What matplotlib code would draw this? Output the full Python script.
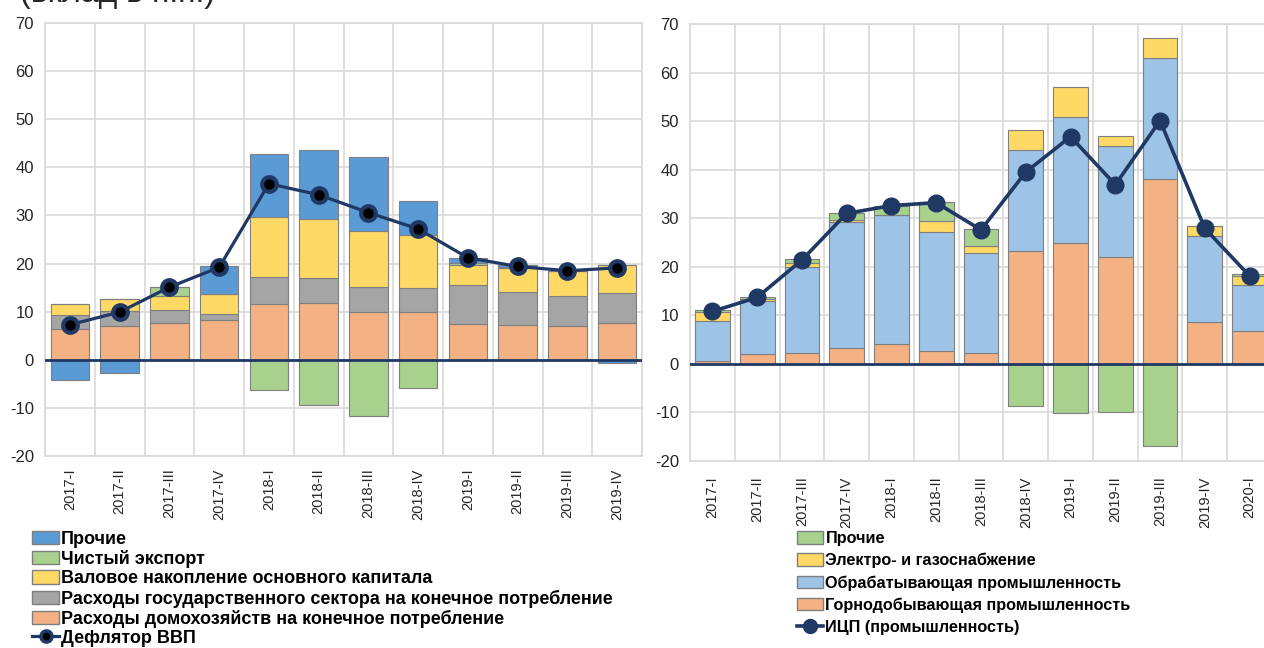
import matplotlib
matplotlib.use("Agg")
import matplotlib.pyplot as plt
import numpy as np
from matplotlib.patches import Patch
from matplotlib.lines import Line2D

plt.rcParams['font.family'] = ['Liberation Sans', 'DejaVu Sans']
plt.rcParams['axes.unicode_minus'] = False

# ---- данные: левая панель (дефлятор ВВП) ----
quarters_l = ['2017-I', '2017-II', '2017-III', '2017-IV', '2018-I', '2018-II', '2018-III', '2018-IV',
              '2019-I', '2019-II', '2019-III', '2019-IV']
households = [6.4, 7.1, 7.6, 8.2, 11.6, 11.8, 9.9, 9.9, 7.5, 7.2, 7.1, 7.6]
government = [3.0, 3.0, 2.8, 1.3, 5.6, 5.2, 5.2, 5.0, 8.1, 6.9, 6.1, 6.3]
investment = [2.2, 2.5, 2.9, 4.25, 12.5, 12.2, 11.7, 11.1, 4.2, 4.9, 5.2, 5.8]
net_export = [0.0, 0.0, 1.8, 0.0, -6.25, -9.4, -11.7, -5.8, 0.4, 0.3, 0.0, 0.1]
other_l = [-4.3, -2.8, 0.0, 5.65, 13.0, 14.3, 15.4, 7.1, 1.0, 0.3, 0.0, -0.7]
deflator = [7.3, 9.9, 15.1, 19.2, 36.6, 34.3, 30.6, 27.2, 21.2, 19.4, 18.5, 19.1]

# ---- данные: правая панель (ИЦП) ----
quarters_r = ['2017-I', '2017-II', '2017-III', '2017-IV', '2018-I', '2018-II', '2018-III', '2018-IV',
              '2019-I', '2019-II', '2019-III', '2019-IV', '2020-I']
mining = [0.5, 2.1, 2.2, 3.2, 4.05, 2.75, 2.3, 23.3, 24.8, 22.1, 38.1, 8.6, 6.8]
manufacturing = [8.4, 10.9, 17.7, 26.1, 26.65, 24.35, 20.5, 20.8, 26.1, 22.8, 24.8, 17.8, 9.5]
electricity = [1.7, 0.4, 0.8, 0.35, 0.0, 2.3, 1.4, 4.1, 6.2, 2.0, 4.2, 1.9, 1.7]
other_r = [0.45, 0.4, 0.9, 1.35, 1.9, 4.0, 3.6, -8.65, -10.2, -10.0, -16.9, 0.0, 0.5]
ppi = [10.8, 13.7, 21.4, 31.0, 32.6, 33.2, 27.6, 39.5, 46.8, 36.9, 50.1, 27.9, 18.1]

c_orange = '#f4b183'
c_gray = '#a5a5a5'
c_yellow = '#ffd966'
c_green = '#a9d18e'
c_blue = '#5b9bd5'
c_lblue = '#9dc3e6'
c_navy = '#1f3864'
c_grid = '#d9d9d9'
edge = '#7f7f7f'

W, H = 1264, 648
fig = plt.figure(figsize=(W / 100, H / 100), dpi=100)


def px_axes(x0, y0, x1, y1):
    return fig.add_axes([x0 / W, 1 - y1 / H, (x1 - x0) / W, (y1 - y0) / H])


def stacked(ax, x, series, colors, width):
    pos = np.zeros(len(x))
    neg = np.zeros(len(x))
    for vals, col in zip(series, colors):
        v = np.array(vals, dtype=float)
        bottom = np.where(v >= 0, pos, neg)
        ax.bar(x, v, width, bottom=bottom, color=col, edgecolor=edge, linewidth=0.8, zorder=2)
        pos = pos + np.where(v > 0, v, 0)
        neg = neg + np.where(v < 0, v, 0)


def style(ax, labels, pad_x):
    n = len(labels)
    ax.set_xlim(-0.5, n - 0.5)
    ax.set_ylim(-20, 70)
    ax.set_yticks(range(-20, 71, 10))
    ax.set_xticks(range(n))
    ax.set_xticklabels(labels, rotation=90, fontsize=10.5, color='#262626')
    ax.set_xticks(np.arange(-0.5, n, 1), minor=True)
    ax.tick_params(axis='both', which='both', length=0)
    ax.tick_params(axis='y', labelsize=12, colors='#262626', pad=8)
    ax.tick_params(axis='x', pad=pad_x)
    ax.grid(axis='y', color=c_grid, linewidth=1.2, zorder=0)
    ax.grid(axis='x', which='minor', color=c_grid, linewidth=1.2, zorder=0)
    for s in ax.spines.values():
        s.set_color(c_grid)
        s.set_linewidth(1.2)
    ax.axhline(0, color=c_navy, linewidth=2, zorder=3)
    ax.set_axisbelow(True)


# левая панель
ax1 = px_axes(45, 23, 642, 456)
x1 = np.arange(len(quarters_l))
stacked(ax1, x1, [households, government, investment, net_export, other_l],
        [c_orange, c_gray, c_yellow, c_green, c_blue], 0.77)
ax1.plot(x1, deflator, color=c_navy, linewidth=2.3, marker='o', markersize=10.5,
         markerfacecolor='black', markeredgecolor=c_navy, markeredgewidth=3, zorder=4)
style(ax1, quarters_l, 9)

# правая панель
ax2 = px_axes(690, 24, 1272, 461)
x2 = np.arange(len(quarters_r))
stacked(ax2, x2, [mining, manufacturing, electricity, other_r],
        [c_orange, c_lblue, c_yellow, c_green], 0.775)
ax2.plot(x2, ppi, color=c_navy, linewidth=2.6, marker='o', markersize=12,
         markerfacecolor=c_navy, markeredgecolor=c_navy, zorder=4)
style(ax2, quarters_r, 11)

fig.text(20 / W, 1 - 2 / H, '(вклад в п.п.)', fontsize=23, color='#262626', va='baseline', ha='left')

# легенды
h_left = [Patch(facecolor=c_blue, edgecolor=edge), Patch(facecolor=c_green, edgecolor=edge),
          Patch(facecolor=c_yellow, edgecolor=edge), Patch(facecolor=c_gray, edgecolor=edge),
          Patch(facecolor=c_orange, edgecolor=edge),
          Line2D([], [], color=c_navy, linewidth=2.3, marker='o', markersize=8,
                 markerfacecolor='black', markeredgecolor=c_navy, markeredgewidth=2.5)]
l_left = ['Прочие', 'Чистый экспорт', 'Валовое накопление основного капитала',
          'Расходы государственного сектора на конечное потребление',
          'Расходы домохозяйств на конечное потребление', 'Дефлятор ВВП']
fig.legend(h_left, l_left, loc='upper left', bbox_to_anchor=(32 / W, 1 - 531 / H),
           frameon=False, borderpad=0, borderaxespad=0, handlelength=1.5, handleheight=0.75,
           handletextpad=0.1, labelspacing=0.12, prop={'weight': 'bold', 'size': 13.0})

h_right = [Patch(facecolor=c_green, edgecolor=edge), Patch(facecolor=c_yellow, edgecolor=edge),
           Patch(facecolor=c_lblue, edgecolor=edge), Patch(facecolor=c_orange, edgecolor=edge),
           Line2D([], [], color=c_navy, linewidth=2.6, marker='o', markersize=10,
                  markerfacecolor=c_navy, markeredgecolor=c_navy)]
l_right = ['Прочие', 'Электро- и газоснабжение', 'Обрабатывающая промышленность',
           'Горнодобывающая промышленность', 'ИЦП (промышленность)']
fig.legend(h_right, l_right, loc='upper left', bbox_to_anchor=(797 / W, 1 - 531 / H),
           frameon=False, borderpad=0, borderaxespad=0, handlelength=1.6, handleheight=0.8,
           handletextpad=0.15, labelspacing=0.42, prop={'weight': 'bold', 'size': 11.7})

fig.savefig('out.png', dpi=100)
